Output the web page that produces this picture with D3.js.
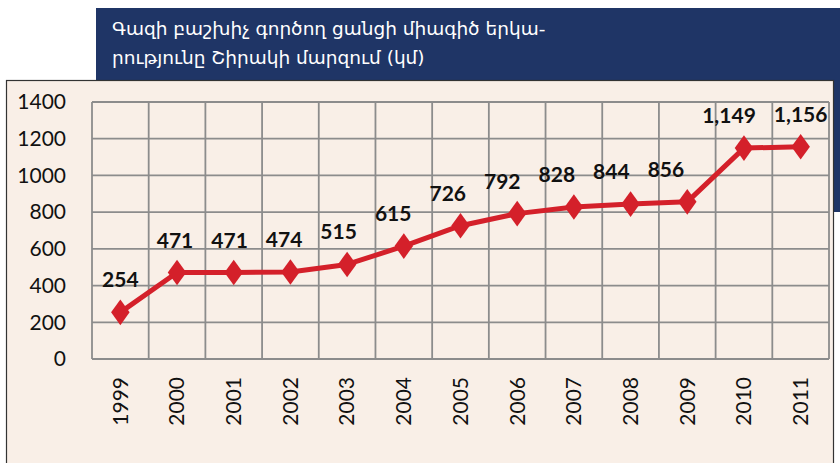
<!DOCTYPE html>
<html>
<head>
<meta charset="utf-8">
<script src="https://cdn.jsdelivr.net/npm/d3@7"></script>
<style>
  body { margin: 0; background: #fff; }
  svg { display: block; }
</style>
</head>
<body>
<script>
// data
var years = ['1999', '2000', '2001', '2002', '2003', '2004', '2005', '2006', '2007', '2008', '2009', '2010', '2011']
var lengths = [254, 471, 471, 474, 515, 615, 726, 792, 828, 844, 856, 1149, 1156]
var yTicks = [0, 200, 400, 600, 800, 1000, 1200, 1400]
var titleLines = ['Գազի բաշխիչ գործող ցանցի միագիծ երկա-', 'րությունը Շիրակի մարզում (կմ)']

var W = 840, H = 463
var svg = d3.select('body').append('svg')
    .attr('width', W)
    .attr('height', H)

// navy title block
svg.append('rect')
    .attr('x', 96).attr('y', 8)
    .attr('width', W - 96).attr('height', 204)
    .attr('fill', '#1f3566')

svg.selectAll('text.title')
    .data(titleLines)
    .enter()
  .append('text')
    .attr('class', 'title')
    .attr('x', 112)
    .attr('y', function (d, i) { return 35 + i * 29 })
    .attr('fill', '#fff')
    .attr('font-family', 'DejaVu Sans, sans-serif')
    .attr('font-size', '18.5px')
    .text(function (d) { return d })

// beige panel
svg.append('rect')
    .attr('x', 6.5).attr('y', 80.5)
    .attr('width', 827).attr('height', 400)
    .attr('fill', '#f9efe7')
    .attr('stroke', '#333')
    .attr('stroke-width', 1.2)

var plotLeft = 92, plotRight = 829, plotTop = 102, plotBottom = 359

var xScale = d3.scaleBand()
    .domain(years)
    .range([plotLeft, plotRight])
    .padding(0)

var yScale = d3.scaleLinear()
    .domain([0, 1400])
    .range([plotBottom, plotTop])

var grid = svg.append('g')
    .attr('stroke', '#8c8c8c')
    .attr('stroke-width', 1.8)

grid.selectAll('line.h')
    .data(yTicks)
    .enter()
  .append('line')
    .attr('class', 'h')
    .attr('x1', plotLeft).attr('x2', plotRight)
    .attr('y1', function (d) { return yScale(d) })
    .attr('y2', function (d) { return yScale(d) })

var edges = years.map(function (d) { return xScale(d) }).concat([plotRight])
grid.selectAll('line.v')
    .data(edges)
    .enter()
  .append('line')
    .attr('class', 'v')
    .attr('x1', function (d) { return d }).attr('x2', function (d) { return d })
    .attr('y1', plotTop).attr('y2', plotBottom)

// Y-axis
var yAxis = d3.axisLeft(yScale)
    .tickValues(yTicks)
    .tickFormat(d3.format('d'))
    .tickSize(0)
    .tickPadding(0)
svg.append('g')
    .attr('transform', 'translate(66,0)')
    .call(yAxis)
    .call(function (g) { g.select('.domain').remove() })
    .selectAll('text')
    .attr('font-family', 'Lato, sans-serif')
    .attr('font-size', '21px')
    .attr('fill', '#111')

// X-axis
var xAxis = d3.axisBottom(xScale).tickSize(0)
svg.append('g')
    .attr('transform', 'translate(0,377)')
    .call(xAxis)
    .call(function (g) { g.select('.domain').remove() })
    .selectAll('text')
    .attr('font-family', 'Lato, sans-serif')
    .attr('font-size', '21px')
    .attr('fill', '#111')
    .attr('y', 0)
    .attr('dy', '0.35em')
    .attr('transform', 'rotate(-90)')
    .style('text-anchor', 'end')

// line
var cx = function (d, i) { return xScale(years[i]) + xScale.bandwidth() / 2 }
var line = d3.line()
    .x(cx)
    .y(function (d) { return yScale(d) })

svg.append('path')
    .datum(lengths)
    .attr('d', line)
    .attr('fill', 'none')
    .attr('stroke', '#d4202a')
    .attr('stroke-width', 5)
    .attr('stroke-linejoin', 'round')

svg.selectAll('path.dot')
    .data(lengths)
    .enter()
  .append('path')
    .attr('class', 'dot')
    .attr('d', d3.symbol().type(d3.symbolDiamond).size(190))
    .attr('transform', function (d, i) {
      return 'translate(' + cx(d, i) + ',' + yScale(d) + ') scale(1.25,1)'
    })
    .attr('fill', '#d4202a')

// value labels
var labels = svg.selectAll('text.val')
    .data(lengths)
    .enter()
  .append('text')
    .attr('class', 'val')
    .attr('x', cx)
    .attr('y', function (d) { return yScale(d) - 25 })
    .attr('text-anchor', 'middle')
    .attr('font-family', 'Lato, sans-serif')
    .attr('font-weight', 'bold')
    .attr('font-size', '21px')
    .attr('fill', '#111')
    .text(function (d) { return d3.format(',')(d) })

// push a label left when it crowds the next one
var nodes = labels.nodes()
for (var i = nodes.length - 2; i >= 0; i--) {
  var a = nodes[i].getBBox(), b = nodes[i + 1].getBBox()
  var gap = 18
  if (a.x + a.width + gap > b.x) {
    var shift = a.x + a.width + gap - b.x
    d3.select(nodes[i]).attr('x', +d3.select(nodes[i]).attr('x') - shift)
  }
}
</script>
</body>
</html>
